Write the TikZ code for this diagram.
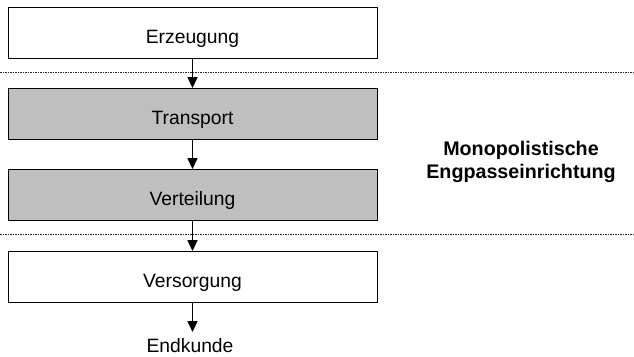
\documentclass[tikz,border=0pt]{standalone}
\usepackage{fontspec}
\setmainfont{Liberation Sans}
\usetikzlibrary{arrows.meta}
\begin{document}
\begin{tikzpicture}[x=1pt,y=-1pt,
  label text/.style={font=\fontsize{19.3}{23}\selectfont},
  stage/.style={draw=black,line width=0.9pt,minimum width=369pt,minimum height=51pt,
    inner sep=0pt,text height=20pt,text depth=0pt,label text},
  bottleneck/.style={stage,fill=black!25},
  flow/.style={line width=1.5pt,-{Triangle[length=11pt,width=10pt]}},
  divider/.style={line width=0.8pt,dash pattern=on 1.5pt off 1pt,black!85}]
  \useasboundingbox (0,0) rectangle (634,356);
  % value chain stages
  \node[stage] (erz) at (192.5,33) {Erzeugung};
  \node[bottleneck] (tra) at (192.5,114) {Transport};
  \node[bottleneck] (ver) at (192.5,195) {Verteilung};
  \node[stage] (vers) at (192.5,277) {Versorgung};
  \node[inner sep=0pt,anchor=base,label text] (end) at (190,352.5) {Endkunde};
  \coordinate (endtop) at (192.5,332);
  % boundaries of the bottleneck segment
  \coordinate (d1l) at (0,72);   \coordinate (d1r) at (634,72);
  \coordinate (d2l) at (0,234);  \coordinate (d2r) at (634,234);
  \draw[divider] (d1l) -- (d1r);
  \draw[divider] (d2l) -- (d2r);
  % flow arrows
  \draw[flow] (erz.south) -- (tra.north);
  \draw[flow] (tra.south) -- (ver.north);
  \draw[flow] (ver.south) -- (vers.north);
  \draw[flow] (vers.south) -- (endtop);
  % segment label
  \node[align=center,inner sep=0pt,font=\bfseries\fontsize{19.7}{23}\selectfont] (mono) at (521,162)
    {Monopolistische\\Engpasseinrichtung};
\end{tikzpicture}
\end{document}
